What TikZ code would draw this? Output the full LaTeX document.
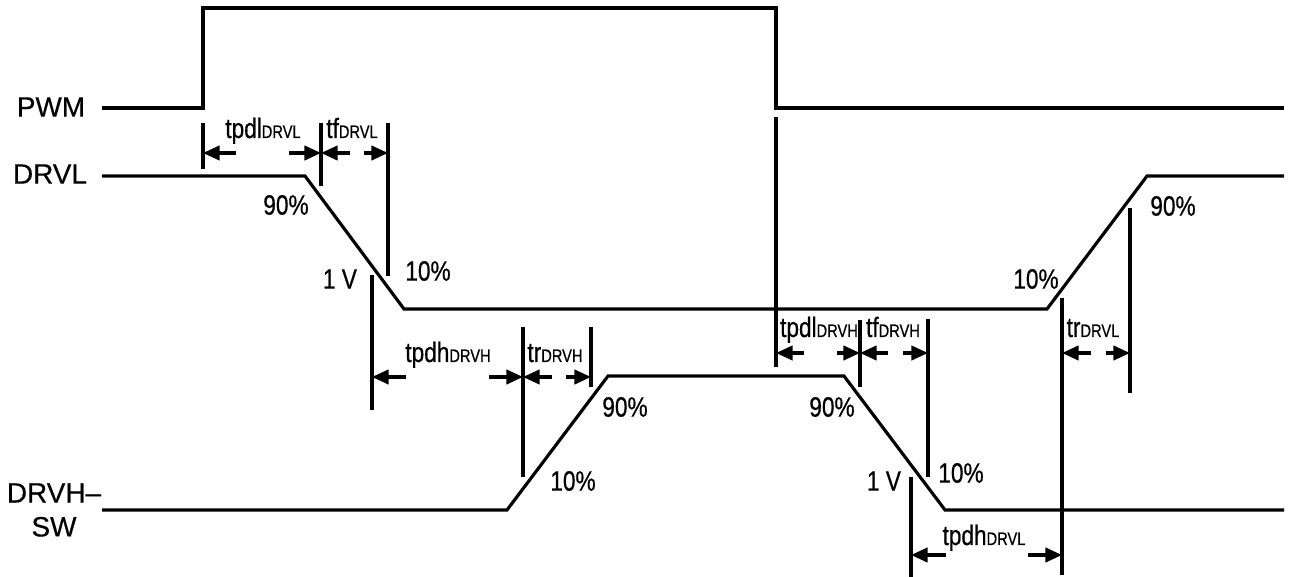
\documentclass[tikz,border=0pt]{standalone}
\usepackage{fontspec}
\setmainfont{Liberation Sans}
\newfontfamily\cond[FakeStretch=0.81,FakeBold=0.6]{Liberation Sans}
\newfontfamily\lab[FakeBold=0.4]{Liberation Sans}
\usetikzlibrary{arrows.meta}
\tikzset{
  wave/.style={line width=1.8pt, line join=miter},
  tickline/.style={line width=1.8pt},
  dimarr/.style={line width=1.8pt, -{Triangle[length=9.5pt,width=8.2pt]}},
  siglabel/.style={font=\lab\fontsize{15.9}{19.3}\selectfont, inner sep=0pt, align=center},
  lvl/.style={font=\cond\fontsize{15.9}{19}\selectfont, inner sep=0pt},
  tlab/.style={font=\cond\fontsize{15.9}{19}\selectfont, inner sep=0pt, anchor=base},
}
\newcommand{\sbx}[1]{{\fontsize{10.3}{12}\selectfont #1}}
\begin{document}
\begin{tikzpicture}[x=0.02cm, y=-0.02cm]
\path[use as bounding box] (0,0) rectangle (1296,577);

% signal names
\node[siglabel] (lpwm) at (51,107) {PWM};
\node[siglabel] (ldrvl) at (50,174) {DRVL};
\node[siglabel] (ldrvh) at (54,510) {DRVH–\\SW};

% waveforms
\coordinate (p0) at (102,108); \coordinate (p1) at (203,108); \coordinate (p2) at (203,8);
\coordinate (p3) at (776,8); \coordinate (p4) at (776,108); \coordinate (p5) at (1284,108);
\draw[wave] (p0) -- (p1) -- (p2) -- (p3) -- (p4) -- (p5);

\coordinate (l0) at (102,176); \coordinate (l1) at (305,176); \coordinate (l2) at (404,309);
\coordinate (l3) at (1047,309); \coordinate (l4) at (1147,176); \coordinate (l5) at (1284,176);
\draw[wave] (l0) -- (l1) -- (l2) -- (l3) -- (l4) -- (l5);

\coordinate (h0) at (102,510); \coordinate (h1) at (507,510); \coordinate (h2) at (608,376);
\coordinate (h3) at (844,376); \coordinate (h4) at (945,510); \coordinate (h5) at (1284,510);
\draw[wave] (h0) -- (h1) -- (h2) -- (h3) -- (h4) -- (h5);

% tick lines
\coordinate (k1a) at (203,123); \coordinate (k1b) at (203,169);
\coordinate (k2a) at (321,123); \coordinate (k2b) at (321,186);
\coordinate (k3a) at (388,123); \coordinate (k3b) at (388,276);
\coordinate (k4a) at (372,275); \coordinate (k4b) at (372,410);
\coordinate (k5a) at (523,327); \coordinate (k5b) at (523,477);
\coordinate (k6a) at (591,327); \coordinate (k6b) at (591,387);
\coordinate (k7a) at (776,117); \coordinate (k7b) at (776,367);
\coordinate (k8a) at (860,320); \coordinate (k8b) at (860,387);
\coordinate (k9a) at (928,319); \coordinate (k9b) at (928,477);
\coordinate (k10a) at (911,477); \coordinate (k10b) at (911,577);
\coordinate (k11a) at (1062,298); \coordinate (k11b) at (1062,575);
\coordinate (k12a) at (1130,208); \coordinate (k12b) at (1130,393);
\foreach \k in {1,...,12} { \draw[tickline] (k\k a) -- (k\k b); }

% dimension arrows
% tpdl DRVL
\coordinate (a1s) at (236,153); \coordinate (a1e) at (203,153);
\coordinate (a2s) at (289,153); \coordinate (a2e) at (321,153);
% tf DRVL
\coordinate (a3s) at (350,153); \coordinate (a3e) at (321,153);
\coordinate (a4s) at (364,153); \coordinate (a4e) at (388,153);
% tpdh DRVH
\coordinate (a5s) at (406,377); \coordinate (a5e) at (372,377);
\coordinate (a6s) at (489,377); \coordinate (a6e) at (523,377);
% tr DRVH
\coordinate (a7s) at (552,377); \coordinate (a7e) at (523,377);
\coordinate (a8s) at (566,377); \coordinate (a8e) at (591,377);
% tpdl DRVH
\coordinate (a9s) at (804,353); \coordinate (a9e) at (776,353);
\coordinate (a10s) at (837,353); \coordinate (a10e) at (860,353);
% tf DRVH
\coordinate (a11s) at (888,353); \coordinate (a11e) at (860,353);
\coordinate (a12s) at (903,353); \coordinate (a12e) at (928,353);
% tpdh DRVL
\coordinate (a13s) at (946,555); \coordinate (a13e) at (911,555);
\coordinate (a14s) at (1028,555); \coordinate (a14e) at (1062,555);
% tr DRVL
\coordinate (a15s) at (1091,353); \coordinate (a15e) at (1062,353);
\coordinate (a16s) at (1106,353); \coordinate (a16e) at (1130,353);
\foreach \a in {1,...,16} { \draw[dimarr] (a\a s) -- (a\a e); }

% timing labels
\node[tlab] (ttpdlL) at (263,138) {tpdl\sbx{DRVL}};
\node[tlab] (ttfL) at (352,138) {tf\sbx{DRVL}};
\node[tlab] (ttpdhH) at (448,362) {tpdh\sbx{DRVH}};
\node[tlab] (ttrH) at (555,362) {tr\sbx{DRVH}};
\node[tlab] (ttpdlH) at (819,337) {tpdl\sbx{DRVH}};
\node[tlab] (ttfH) at (893,337) {tf\sbx{DRVH}};
\node[tlab] (ttpdhL) at (984,545) {tpdh\sbx{DRVL}};
\node[tlab] (ttrL) at (1093,337) {tr\sbx{DRVL}};

% level labels
\node[lvl] (v1) at (286,205) {90\%};
\node[lvl] (v2) at (340,279) {1 V};
\node[lvl] (v3) at (428,271) {10\%};
\node[lvl] (v4) at (573,481) {10\%};
\node[lvl] (v5) at (625,407) {90\%};
\node[lvl] (v6) at (832,407) {90\%};
\node[lvl] (v7) at (884,481) {1 V};
\node[lvl] (v8) at (961,473) {10\%};
\node[lvl] (v9) at (1036,279) {10\%};
\node[lvl] (v10) at (1173,206) {90\%};
\end{tikzpicture}
\end{document}
